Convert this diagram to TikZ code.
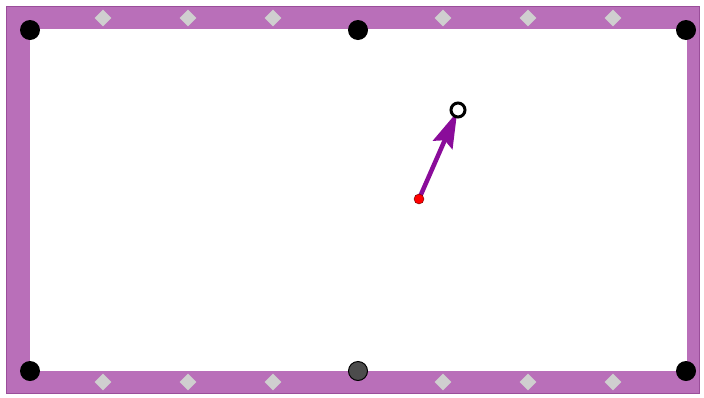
\documentclass[tikz,border=0pt]{standalone}
\usetikzlibrary{shapes.geometric,arrows.meta}
\definecolor{rail}{HTML}{B96FB9}
\definecolor{railedge}{HTML}{9A4E9A}
\definecolor{cuepath}{HTML}{8A0C9A}
\definecolor{marker}{HTML}{CFCFCF}
\begin{document}
\begin{tikzpicture}[x=1pt, y=-1pt]
\tikzstyle{pocket} = [circle, fill=black, inner sep=0pt, minimum size=20pt]
\tikzstyle{sight} = [diamond, fill=marker, inner sep=0pt, minimum size=17pt]
\tikzstyle{line} = [draw=cuepath, line width=4.5pt, -{Stealth[length=36pt, width=21pt, inset=5pt]}]

\useasboundingbox (0,0) rectangle (704,397);
% table
\filldraw [fill=rail, draw=railedge, line width=1pt] (6,6) rectangle (699,393);
\fill [white] (30,29) rectangle (687,371);

% diamonds on the rails
\foreach \x in {103,188,273,443,528,613} {
  \node [sight] at (\x,18) {};
  \node [sight] at (\x,382) {};
}

% pockets
\node [pocket] (tl) at (30,30) {};
\node [pocket] (tm) at (358,30) {};
\node [pocket] (tr) at (686,30) {};
\node [pocket] (bl) at (30,371) {};
\node [pocket, fill=black!70, draw=black, line width=1pt, minimum size=19pt] (bm) at (358,371) {};
\node [pocket] (br) at (686,371) {};

% shot
\coordinate (cuepos) at (458,110);
\coordinate (aimpos) at (419,199);
\path [line, shorten >=2pt] (aimpos) -- (cuepos);

% balls
\node [circle, draw=black, line width=3pt, fill=white, inner sep=0pt, minimum size=14pt] (cue) at (cuepos) {};
\node [circle, draw=black!60!red, line width=0.4pt, fill=red, inner sep=0pt, minimum size=10pt] (aim) at (aimpos) {};

\end{tikzpicture}
\end{document}
